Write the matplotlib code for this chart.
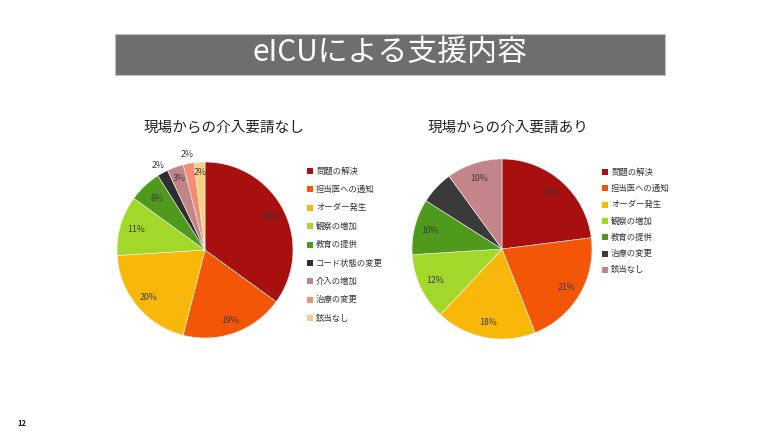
import matplotlib
matplotlib.use("Agg")
import matplotlib.pyplot as plt
from matplotlib.patches import Rectangle
import numpy as np

plt.rcParams['font.family'] = ['Noto Sans CJK JP', 'DejaVu Sans']

title = "eICUによる支援内容"
title1 = "現場からの介入要請なし"
title2 = "現場からの介入要請あり"

cats1 = ["問題の解決", "担当医への通知", "オーダー発生", "観察の増加", "教育の提供",
         "コード状態の変更", "介入の増加", "治療の変更", "該当なし"]
vals1 = [35, 19, 20, 11, 6, 2, 3, 2, 2]
cols1 = ["#a8100f", "#f45608", "#f8b80a", "#a3d82b", "#4f9a1c", "#2e2e2e",
         "#c4858a", "#f38d74", "#f7cf82"]
dist1 = [0.84, 0.85, 0.84, 0.82, 0.80, 1.10, 0.86, 1.10, 0.88]

cats2 = ["問題の解決", "担当医への通知", "オーダー発生", "観察の増加", "教育の提供",
         "治療の変更", "該当なし"]
vals2 = [23, 21, 18, 12, 10, 6, 10]
cols2 = ["#a8100f", "#f45608", "#f8b80a", "#a3d82b", "#4f9a1c", "#3a3a3a", "#c4858a"]
dist2 = [0.83, 0.83, 0.83, 0.82, 0.82, 0.80, 0.82]

W, H = 780, 437
fig = plt.figure(figsize=(W / 100, H / 100), dpi=100)
fig.patch.set_facecolor("white")

def fx(x):
    return x / W

def fy(y):
    return 1 - y / H

# Title banner
fig.patches.append(Rectangle((fx(115), fy(75)), fx(665) - fx(115), fy(34) - fy(75),
                             transform=fig.transFigure, facecolor="#6e6e6e",
                             edgecolor="#bdbdbd", linewidth=0.8))
fig.text(fx(390), fy(52), title, ha="center", va="center", color="white", fontsize=21.5)

fig.text(fx(224), fy(128), title1, ha="center", va="center", color="#222222", fontsize=10.5)
fig.text(fx(508), fy(128), title2, ha="center", va="center", color="#222222", fontsize=10.5)

fig.text(fx(22), fy(423), "12", ha="center", va="center", color="#222222", fontsize=5.5,
         fontweight="bold")


def draw_pie(cx, cy, r, vals, cols, dists):
    ax = fig.add_axes([fx(cx - r), fy(cy + r), 2 * r / W, 2 * r / H])
    wedges, _ = ax.pie(vals, colors=cols, startangle=90, counterclock=False,
                       radius=1.0, wedgeprops=dict(edgecolor="#f4f4f4", linewidth=0.4))
    theta = 90.0
    total = float(sum(vals))
    for v, d in zip(vals, dists):
        span = 360.0 * v / total
        mid = np.deg2rad(theta - span / 2)
        ax.text(d * np.cos(mid), d * np.sin(mid), f"{v}%", ha="center", va="center",
                fontsize=6.3, color="#3a3a3a")
        theta -= span
    ax.set_xlim(-1.15, 1.15)
    ax.set_ylim(-1.15, 1.15)
    ax.set_aspect("equal")
    ax.axis("off")
    return ax

# axes limits are +-1.15 so the outer box is scaled accordingly
draw_pie(205, 250, 88 * 1.15, vals1, cols1, dist1)
draw_pie(502, 249, 90 * 1.15, vals2, cols2, dist2)


def draw_legend(x, y0, step, cats, cols):
    for i, (c, col) in enumerate(zip(cats, cols)):
        y = y0 + i * step
        fig.patches.append(Rectangle((fx(x - 3), fy(y + 3)), 6 / W, 6 / H,
                                     transform=fig.transFigure, facecolor=col,
                                     edgecolor="none"))
        fig.text(fx(x + 6), fy(y), c, ha="left", va="center", fontsize=6.0,
                 color="#333333")

draw_legend(310, 171, 18.4, cats1, cols1)
draw_legend(605, 172, 16.3, cats2, cols2)

fig.savefig("out.png", dpi=100, facecolor="white")
